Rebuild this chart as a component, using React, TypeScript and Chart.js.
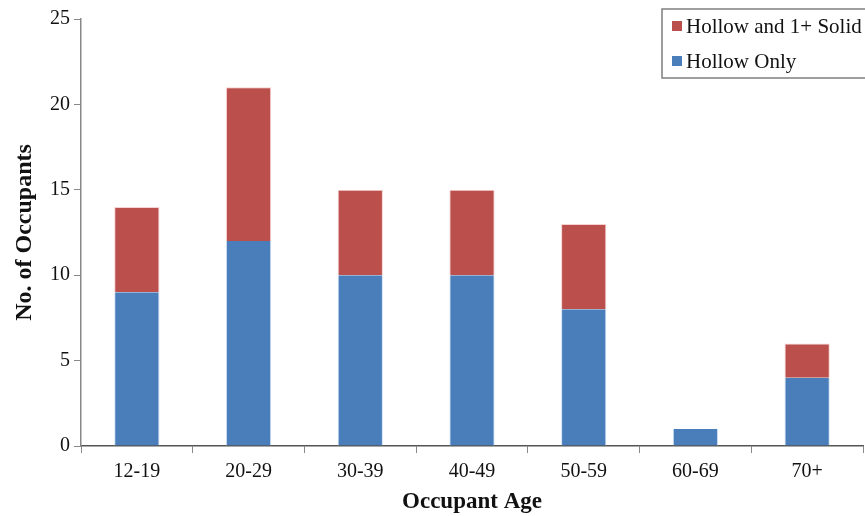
import React, { useEffect, useRef } from "react";
import { Chart, registerables } from "chart.js";

Chart.register(...registerables);

const categories = ["12-19", "20-29", "30-39", "40-49", "50-59", "60-69", "70+"];
const hollowOnly = [9, 12, 10, 10, 8, 1, 4];
const hollowAndSolid = [5, 9, 5, 5, 5, 0, 2];
const seriesNames = ["Hollow Only", "Hollow and 1+ Solid"];
const yTicks = [0, 5, 10, 15, 20, 25];
const xTitle = "Occupant Age";
const yTitle = "No. of Occupants";

const BLUE = "#4A7EBB";
const RED = "#BA4F4C";
const FONT = "'Liberation Serif', 'Times New Roman', serif";

const legendPlugin = {
  id: "boxLegend",
  afterDraw(chart: any) {
    const ctx = chart.ctx;
    ctx.save();
    const x = 662;
    const y = 9;
    const w = 260;
    const h = 69;
    ctx.strokeStyle = "#7f7f7f";
    ctx.lineWidth = 1.5;
    ctx.fillStyle = "#ffffff";
    ctx.fillRect(x, y, w, h);
    ctx.strokeRect(x, y, w, h);
    const items = [
      { label: seriesNames[1], color: RED, cy: 26 },
      { label: seriesNames[0], color: BLUE, cy: 61 },
    ];
    ctx.font = `21px ${FONT}`;
    ctx.textBaseline = "middle";
    ctx.textAlign = "left";
    for (const it of items) {
      ctx.fillStyle = it.color;
      ctx.fillRect(672, it.cy - 5, 10, 10);
      ctx.fillStyle = "#111";
      ctx.fillText(it.label, 686, it.cy + 1);
    }
    ctx.restore();
  },
};

export default function App() {
  const ref = useRef<HTMLCanvasElement | null>(null);
  useEffect(() => {
    document.body.style.margin = "0";
    const canvas = ref.current!;
    const chart = new Chart(canvas, {
      type: "bar",
      data: {
        labels: categories,
        datasets: [
          {
            label: seriesNames[0],
            data: hollowOnly,
            backgroundColor: BLUE,
            borderColor: "rgba(200,220,245,0.9)",
            borderWidth: { left: 1, right: 1, top: 0, bottom: 0 },
            barPercentage: 0.405,
            categoryPercentage: 1,
          },
          {
            label: seriesNames[1],
            data: hollowAndSolid,
            backgroundColor: RED,
            borderColor: "rgba(245,205,205,0.9)",
            borderWidth: { left: 1, right: 1, top: 1, bottom: 0 },
            barPercentage: 0.405,
            categoryPercentage: 1,
          },
        ],
      },
      options: {
        animation: false,
        responsive: false,
        maintainAspectRatio: false,
        layout: { padding: { top: 19, right: 2, left: 0, bottom: 0 } },
        plugins: {
          legend: { display: false },
          tooltip: { enabled: false },
        },
        scales: {
          x: {
            stacked: true,
            afterFit: (s: any) => {
              s.height = 70;
            },
            grid: {
              offset: true,
              drawOnChartArea: false,
              drawTicks: true,
              tickLength: 7,
              color: "#888",
            },
            border: { color: "#555", width: 1.5 },
            ticks: {
              color: "#111",
              font: { family: FONT, size: 20 },
              padding: 7,
              maxRotation: 0,
            },
            title: {
              display: true,
              text: xTitle,
              color: "#111",
              font: { family: FONT, size: 23, weight: "bold" },
              padding: { top: 6, bottom: 0 },
            },
          },
          y: {
            stacked: true,
            min: 0,
            max: 25,
            afterFit: (s: any) => {
              s.width = 81;
            },
            afterBuildTicks: (s: any) => {
              s.ticks = yTicks.map((v) => ({ value: v }));
            },
            grid: {
              drawOnChartArea: false,
              drawTicks: true,
              tickLength: 7,
              color: "#888",
            },
            border: { color: "#888", width: 1.5 },
            ticks: {
              color: "#111",
              font: { family: FONT, size: 20 },
              padding: 4,
            },
            title: {
              display: true,
              text: yTitle,
              color: "#111",
              font: { family: FONT, size: 24, weight: "bold" },
              padding: { top: 10, bottom: 0 },
            },
          },
        },
      },
      plugins: [legendPlugin],
    });
    return () => chart.destroy();
  }, []);
  return (
    <div style={{ width: 865, height: 516 }}>
      <canvas ref={ref} width={865} height={516} style={{ display: "block" }} />
    </div>
  );
}
